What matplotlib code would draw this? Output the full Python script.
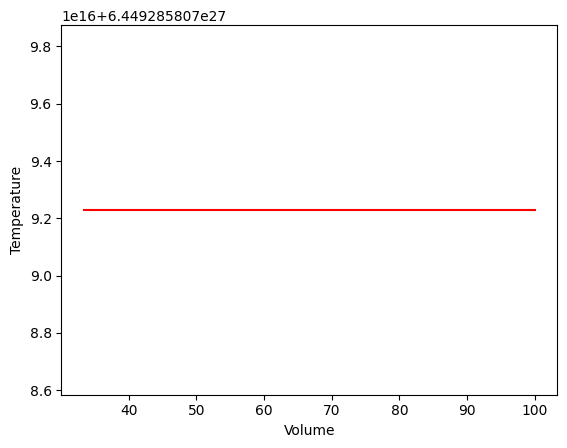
import numpy as np
from matplotlib import pyplot as plt

# volume samples and the (constant) temperature
volume = [33.4, 40.0, 50.0, 60.0, 70.0, 80.0, 90.0, 100.0]
temperature = [6.44928580709229e27] * len(volume)

# axis limits
y_low = 6.449285807e27 + 8.584e16
y_high = 6.449285807e27 + 9.874e16

plt.figure(figsize=(6.4, 4.8))
plt.plot(volume, temperature, color='r')
plt.ylim(y_low, y_high)
plt.xlabel('Volume')
plt.ylabel('Temperature')
plt.savefig('out.png', dpi=100, bbox_inches='tight')
plt.close()
